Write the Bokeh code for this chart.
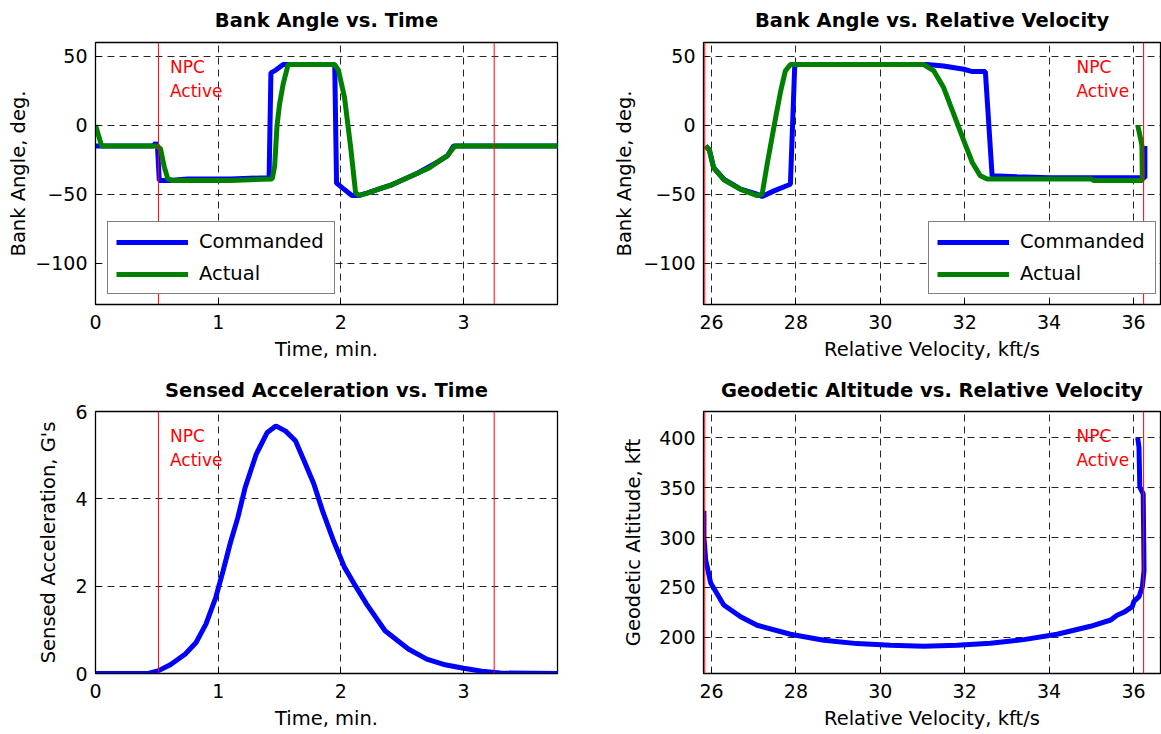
from bokeh.plotting import figure
from bokeh.models import Range1d, FixedTicker, Span, Label, Legend, LegendItem
from bokeh.layouts import column, row
from bokeh.embed import file_html
from bokeh.resources import INLINE

FONT = "DejaVu Sans"
BLUE = "#0000ff"
GREEN = "#008000"

# ---------------- data ----------------
# Panel 1: bank angle vs time (min)
t_cmd = [0.0, 0.47, 0.49, 0.505, 0.52, 0.60, 0.75, 1.10, 1.40, 1.415, 1.43, 1.47, 1.53,
         1.95, 1.965, 2.02, 2.09, 2.14, 2.22, 2.32, 2.42, 2.52, 2.62, 2.72, 2.80, 2.87, 2.92, 3.77]
b_cmd = [-15, -15, -13, -15, -40, -40, -39, -39, -38, -38, 38, 40, 44,
         44, -42, -46, -51, -51, -49, -46, -43, -39, -35, -30, -26, -22, -15, -15]
t_act = [0.0, 0.05, 0.50, 0.53, 0.56, 0.59, 0.63, 1.10, 1.44, 1.46, 1.48, 1.50, 1.53, 1.57,
         1.95, 1.98, 2.03, 2.08, 2.12, 2.15, 2.22, 2.32, 2.42, 2.52, 2.62, 2.72, 2.80, 2.87, 2.93, 3.77]
b_act = [0, -15, -15, -17, -30, -39, -40, -40, -39, -30, 0, 15, 30, 44,
         44, 40, 20, -16, -49, -51, -49, -46, -43, -39, -35, -31, -26, -22, -15, -15]

# Panel 2: bank angle vs relative velocity (kft/s)
v_cmd = [36.27, 36.27, 36.0, 35.0, 34.0, 33.24, 32.65, 32.49, 32.18, 31.98, 31.5, 31.11, 28.0,
         27.97, 27.87, 27.48, 27.2, 27.08, 26.69, 26.29, 26.05, 25.95, 25.86]
vb_cmd = [-15, -38, -38, -38, -38, -37.4, -36.7, 38.9, 38.9, 40.6, 43, 44, 44,
          41.8, -42.8, -47.6, -51.7, -50, -46.4, -39, -30.7, -18, -15]
v_act = [36.10, 36.17, 36.20, 36.21, 35.05, 35.0, 32.53, 32.37, 32.18, 31.98, 31.74, 31.5, 31.27,
         31.03, 27.87, 27.75, 27.64, 27.52, 27.32, 27.2, 27.08, 26.69, 26.29, 26.05, 25.95, 25.86]
vb_act = [0, -10, -15, -40, -40, -39, -39, -36.7, -27, -11.4, 8, 27.3, 39.4,
          44, 44, 39.4, 24.9, 5.6, -28, -50, -51, -46.5, -39.5, -31, -18, -15]

# Panel 3: sensed acceleration (G's) vs time (min)
t_acc = [0.0, 0.43, 0.51, 0.61, 0.73, 0.82, 0.90, 0.98, 1.04, 1.10, 1.16, 1.22, 1.31, 1.40,
         1.47, 1.55, 1.63, 1.70, 1.78, 1.85, 1.94, 2.03, 2.12, 2.21, 2.36, 2.55, 2.70, 2.85,
         3.00, 3.15, 3.30, 3.77]
g_acc = [0.0, 0.0, 0.06, 0.20, 0.44, 0.71, 1.13, 1.74, 2.35, 3.00, 3.57, 4.26, 5.02, 5.52,
         5.67, 5.55, 5.33, 4.87, 4.34, 3.73, 3.04, 2.43, 2.00, 1.59, 0.98, 0.56, 0.33, 0.20,
         0.12, 0.05, 0.01, 0.0]

# Panel 4: geodetic altitude (kft) vs relative velocity (kft/s)
v_alt = [36.10, 36.13, 36.15, 36.23, 36.25, 36.21, 36.13, 36.01, 35.97, 35.77, 35.61, 35.46,
         34.98, 34.19, 33.40, 32.61, 31.82, 31.03, 30.24, 29.45, 28.66, 27.87, 27.08, 26.69,
         26.29, 25.98, 25.86, 25.84, 25.82, 25.82]
h_alt = [400, 390.7, 350.7, 344, 267, 250.7, 240.7, 236, 230.7, 225, 222, 217.3,
         211, 203, 197.6, 194, 192, 191, 192, 193.6, 197, 203, 212, 220.6,
         232.4, 254.4, 278, 290, 300, 327]

# NPC active markers
npc_time = [0.513, 3.25]
npc_vel = [25.84, 36.24]

time_ticks = [0, 1, 2, 3]
vel_ticks = [26, 28, 30, 32, 34, 36]
bank_ticks = [-100, -50, 0, 50]
acc_ticks = [0, 2, 4, 6]
alt_ticks = [200, 250, 300, 350, 400]


def make_fig(w, h, xr, yr, xt, yt, bl, br, bt, bb, title, xlabel, ylabel, ylab_standoff, tstand):
    p = figure(width=w, height=h, x_range=Range1d(*xr), y_range=Range1d(*yr),
               output_backend="svg", toolbar_location=None,
               min_border_left=bl, min_border_right=br, min_border_top=bt, min_border_bottom=bb,
               title=title)
    p.title.text_font = FONT
    p.title.text_font_style = "bold"
    p.title.text_font_size = "19.5px"
    p.title.align = "center"
    p.title.vertical_align = "top"
    p.title.text_color = "black"
    p.title.standoff = tstand
    p.background_fill_color = "white"
    p.border_fill_color = "white"
    p.outline_line_color = "black"
    p.outline_line_width = 1.3
    p.outline_line_alpha = 1.0
    p.xaxis.ticker = FixedTicker(ticks=xt)
    p.yaxis.ticker = FixedTicker(ticks=yt)
    for ax in (p.xaxis[0], p.yaxis[0]):
        ax.major_label_text_font = FONT
        ax.major_label_text_font_size = "19px"
        ax.major_label_text_color = "black"
        ax.axis_label_text_font = FONT
        ax.axis_label_text_font_size = "19.5px"
        ax.axis_label_text_font_style = "normal"
        ax.axis_label_text_color = "black"
        ax.axis_line_color = "black"
        ax.major_tick_line_color = "black"
        ax.major_tick_in = 5
        ax.major_tick_out = 0
        ax.minor_tick_line_color = None
    p.xaxis.axis_label = xlabel
    p.yaxis.axis_label = ylabel
    p.xaxis.major_label_standoff = 10
    p.xaxis.axis_label_standoff = 6
    p.yaxis.major_label_standoff = 8
    p.yaxis.axis_label_standoff = ylab_standoff
    for g in (p.xgrid[0], p.ygrid[0]):
        g.grid_line_color = "black"
        g.grid_line_dash = "7 5"
        g.grid_line_alpha = 0.85
        g.grid_line_width = 1
    return p


def npc(p, xs, x_text, y1, y2):
    for x in xs:
        p.add_layout(Span(location=x, dimension="height", line_color="red", line_width=1))
    for txt, y in (("NPC", y1), ("Active", y2)):
        p.add_layout(Label(x=x_text, y=y, text=txt, text_font=FONT, text_font_size="17px",
                           text_color="red", text_baseline="alphabetic", text_align="left"))


def legend(p, r1, r2, x, y):
    lg = Legend(items=[LegendItem(label="Commanded", renderers=[r1]),
                       LegendItem(label="Actual", renderers=[r2])],
                location=(x, y), orientation="vertical")
    lg.label_text_font = FONT
    lg.label_text_font_size = "19.5px"
    lg.label_text_color = "black"
    lg.glyph_width = 72
    lg.glyph_height = 18
    lg.label_height = 18
    lg.label_width = 127
    lg.label_standoff = 11
    lg.spacing = 9
    lg.padding = 8
    lg.margin = 0
    lg.border_line_color = "black"
    lg.border_line_width = 1.5
    lg.background_fill_color = "white"
    lg.background_fill_alpha = 1.0
    p.add_layout(lg, "center")


LW = 5

# Panel 1
p1 = make_fig(580, 365, (0, 3.766), (-130, 60), time_ticks, bank_ticks, 95, 23, 42, 61,
              "Bank Angle vs. Time", "Time, min.", "Bank Angle, deg.", 2, 17)
npc(p1, npc_time, 0.607, 42.2, 24.9)
r1 = p1.line(t_cmd, b_cmd, line_color=BLUE, line_width=LW)
r2 = p1.line(t_act, b_act, line_color=GREEN, line_width=LW)
legend(p1, r1, r2, 12, 10)

# Panel 2
p2 = make_fig(581, 365, (25.81, 36.64), (-130, 60), vel_ticks, bank_ticks, 123, 1, 42, 61,
              "Bank Angle vs. Relative Velocity", "Relative Velocity, kft/s", "Bank Angle, deg.", 4, 17)
npc(p2, npc_vel, 34.65, 42.2, 24.9)
r3 = p2.line(v_cmd, vb_cmd, line_color=BLUE, line_width=LW)
r4 = p2.line(v_act, vb_act, line_color=GREEN, line_width=LW)
legend(p2, r3, r4, 225, 10)

# Panel 3
p3 = make_fig(580, 369, (0, 3.766), (0, 6), time_ticks, acc_ticks, 95, 23, 46, 61,
              "Sensed Acceleration vs. Time", "Time, min.", "Sensed Acceleration, G's", 12, 16)
npc(p3, npc_time, 0.607, 5.445, 4.898)
p3.line(t_acc, g_acc, line_color=BLUE, line_width=LW)

# Panel 4
p4 = make_fig(581, 369, (25.81, 36.64), (163.6, 426.6), vel_ticks, alt_ticks, 123, 1, 46, 61,
              "Geodetic Altitude vs. Relative Velocity", "Relative Velocity, kft/s",
              "Geodetic Altitude, kft", 11, 16)
npc(p4, npc_vel, 34.65, 402.3, 378.3)
p4.line(v_alt, h_alt, line_color=BLUE, line_width=LW)

layout = column(row(p1, p2), row(p3, p4))
open("out.html", "w").write(file_html(layout, INLINE))
